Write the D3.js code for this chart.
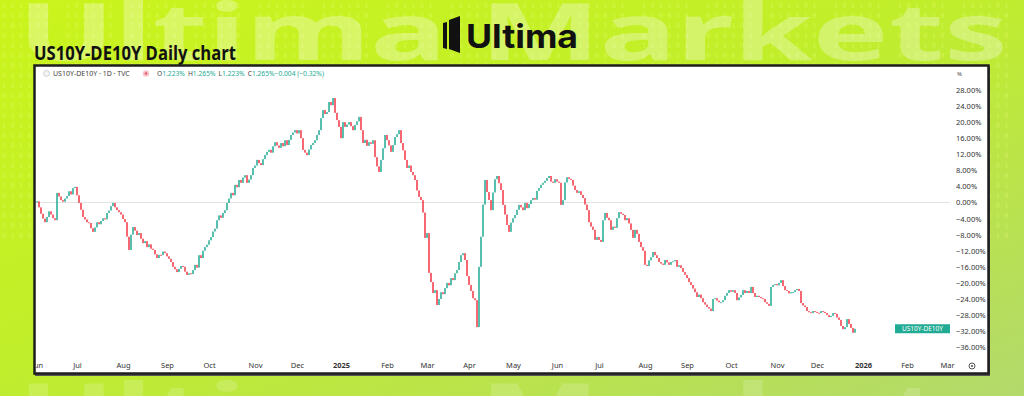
<!DOCTYPE html>
<html>
<head>
<meta charset="utf-8">
<script src="https://cdn.jsdelivr.net/npm/d3@7"></script>
<style>
  html, body { margin: 0; padding: 0; background: #c4ee2c; }
  svg { display: block; font-family: "Noto Sans", "Open Sans", sans-serif; }
</style>
</head>
<body>
<svg id="chart" width="1024" height="396"></svg>
<script>
// Daily closes of the US10Y-DE10Y spread, % change from first bar
const startDate = new Date(2024, 5, 3);
const closes = [
  0.3,-1.2,-2.8,-4.0,-4.9,-3.6,-2.2,-3.0,-3.9,-4.4,
  2.4,1.5,0.6,0.2,1.0,1.6,2.8,2.0,3.6,3.9,
  1.8,-0.1,-1.8,-3.6,-4.2,-4.9,-5.1,-6.4,-7.3,-6.2,
  -4.9,-5.4,-4.6,-3.9,-4.2,-2.6,-2.0,-0.9,-0.1,-1.2,
  -1.9,-2.4,-3.0,-4.1,-4.9,-8.5,-11.8,-8.0,-6.1,-7.0,
  -8.1,-7.6,-9.0,-10.1,-9.6,-11.1,-10.4,-11.5,-11.8,-12.9,
  -13.8,-13.0,-13.1,-12.2,-12.6,-13.4,-14.0,-14.8,-16.0,-16.6,
  -17.3,-16.5,-15.8,-16.0,-17.2,-18.0,-17.6,-17.8,-16.8,-15.5,
  -16.2,-13.1,-13.8,-12.0,-11.1,-10.5,-9.4,-8.6,-7.2,-6.5,
  -4.4,-3.2,-3.8,-2.6,-1.9,-0.1,1.0,2.4,1.8,4.4,
  3.8,5.6,4.9,6.2,6.8,4.9,5.7,6.8,8.6,9.2,
  10.6,9.8,9.3,10.8,11.8,12.6,13.1,12.4,14.0,15.0,
  14.2,13.6,14.8,14.0,15.5,14.3,15.6,16.8,17.4,18.0,
  17.2,18.0,16.0,13.1,12.4,11.8,13.2,14.3,14.8,15.5,
  16.8,18.0,21.0,23.0,22.0,22.5,25.0,24.2,26.0,22.3,
  20.5,18.8,16.0,20.0,18.8,19.4,20.0,19.0,18.0,19.3,
  20.2,21.3,18.0,14.8,15.6,14.1,15.0,14.6,15.5,11.3,
  9.0,7.6,10.6,13.5,16.8,15.5,14.2,12.6,14.3,16.3,
  17.0,18.0,14.8,13.0,10.6,8.6,9.2,7.6,6.8,5.6,
  3.0,1.4,0.6,-2.5,-8.8,-7.6,-17.5,-19.8,-22.5,-21.8,
  -25.5,-24.0,-22.3,-22.8,-21.3,-20.0,-20.6,-18.8,-19.3,-17.6,
  -16.8,-14.8,-13.1,-12.6,-14.3,-18.3,-20.5,-22.0,-23.8,-24.3,
  -31.0,-16.0,-8.5,-0.5,5.6,2.6,0.6,-1.9,2.5,5.8,
  6.6,4.8,3.1,-0.6,-3.0,-5.6,-7.3,-5.0,-3.9,-3.1,
  -1.8,-0.6,-1.2,-1.9,-0.1,-1.4,-0.4,0.6,1.1,0.7,
  2.9,3.6,4.4,4.9,5.4,6.1,6.6,5.2,4.9,5.8,
  5.2,4.9,-0.6,0.6,5.0,6.3,5.9,5.6,4.2,3.1,
  2.4,2.8,1.9,1.1,-0.5,-1.9,-4.9,-6.0,-6.8,-9.3,
  -8.6,-9.3,-9.8,-4.4,-2.6,-3.8,-4.4,-6.8,-6.0,-6.3,
  -3.9,-2.4,-2.8,-3.1,-4.4,-3.9,-5.2,-6.8,-8.8,-6.8,
  -7.8,-9.8,-11.1,-12.0,-15.5,-15.8,-14.4,-13.6,-12.3,-13.1,
  -13.8,-14.8,-15.2,-15.5,-14.3,-14.9,-15.5,-14.8,-14.6,-14.3,
  -16.0,-15.6,-16.3,-17.3,-18.0,-18.8,-19.8,-20.5,-21.4,-22.3,
  -23.5,-22.9,-23.8,-24.8,-25.4,-26.0,-26.4,-27.0,-24.0,-23.8,
  -24.4,-24.8,-24.8,-24.3,-23.2,-22.5,-21.8,-22.2,-21.8,-22.5,
  -24.3,-23.6,-23.0,-21.8,-22.5,-22.0,-22.5,-21.0,-22.5,-23.5,
  -23.2,-23.5,-23.8,-24.0,-24.8,-25.2,-25.7,-21.0,-20.5,-20.3,
  -20.6,-20.0,-19.3,-20.8,-21.8,-22.0,-22.6,-22.3,-22.3,-21.8,
  -21.5,-22.0,-25.0,-25.6,-26.0,-27.0,-27.3,-27.5,-27.0,-27.2,
  -27.4,-27.5,-27.0,-27.2,-27.5,-28.0,-28.5,-28.2,-27.5,-27.7,
  -28.6,-29.2,-30.7,-31.5,-31.0,-29.0,-30.2,-31.2,-32.4,-31.4
];

const yTicks = [28, 24, 20, 16, 12, 8, 4, 0, -4, -8, -12, -16, -20, -24, -28, -32, -36];
const monthTicks = [
  [2024, 5, "Jun"], [2024, 6, "Jul"], [2024, 7, "Aug"], [2024, 8, "Sep"], [2024, 9, "Oct"],
  [2024, 10, "Nov"], [2024, 11, "Dec"], [2025, 0, "2025"], [2025, 1, "Feb"], [2025, 2, "Mar"],
  [2025, 3, "Apr"], [2025, 4, "May"], [2025, 5, "Jun"], [2025, 6, "Jul"], [2025, 7, "Aug"],
  [2025, 8, "Sep"], [2025, 9, "Oct"], [2025, 10, "Nov"], [2025, 11, "Dec"], [2026, 0, "2026"],
  [2026, 1, "Feb"], [2026, 2, "Mar"]
];
const symbol = "US10Y-DE10Y";
const legendValues = [["O", "1.223%"], ["H", "1.265%"], ["L", "1.223%"], ["C", "1.265%"], ["", "\u22120.004 (\u22120.32%)"]];

// weekday index of a date counted from startDate (bars are placed by index, like TradingView)
function barIndex(date) {
  let n = 0;
  const d = new Date(startDate);
  while (d < date) {
    const wd = d.getDay();
    if (wd !== 0 && wd !== 6) n++;
    d.setDate(d.getDate() + 1);
  }
  return n;
}
function firstWeekday(y, m) {
  const d = new Date(y, m, 1);
  while (d.getDay() === 0 || d.getDay() === 6) d.setDate(d.getDate() + 1);
  return d;
}

const svg = d3.select("#chart");
const defs = svg.append("defs");

// background
const bg = defs.append("linearGradient").attr("id", "bg")
  .attr("x1", 0).attr("y1", 0).attr("x2", 1).attr("y2", 1);
bg.append("stop").attr("offset", "0%").attr("stop-color", "#cbf41c");
bg.append("stop").attr("offset", "45%").attr("stop-color", "#c1ee2a");
bg.append("stop").attr("offset", "100%").attr("stop-color", "#b3d96c");
svg.append("rect").attr("width", 1024).attr("height", 396).attr("fill", "url(#bg)");

const pat = defs.append("pattern").attr("id", "bits")
  .attr("patternUnits", "userSpaceOnUse").attr("width", 64).attr("height", 20);
pat.append("text").attr("x", 2).attr("y", 8).text("1 0 1 1 0 1")
  .attr("font-size", 7).attr("font-family", "DejaVu Sans Mono").attr("fill", "#f0ff80");
pat.append("text").attr("x", 2).attr("y", 18).text("0 1 0 0 1 0")
  .attr("font-size", 7).attr("font-family", "DejaVu Sans Mono").attr("fill", "#f0ff80");
svg.append("rect").attr("width", 1024).attr("height", 240).attr("fill", "url(#bits)").attr("opacity", 0.35);

// watermarks
svg.append("text").attr("x", 18).attr("y", 60)
  .attr("textLength", 990).attr("lengthAdjust", "spacingAndGlyphs")
  .attr("font-size", 78).attr("font-weight", 700)
  .attr("fill", "#ffffff").attr("opacity", 0.3)
  .text("Ultima Markets");
svg.append("text").attr("x", 18).attr("y", 440)
  .attr("textLength", 990).attr("lengthAdjust", "spacingAndGlyphs")
  .attr("font-size", 78).attr("font-weight", 700)
  .attr("fill", "#ffffff").attr("opacity", 0.16)
  .text("Ultima Markets");

// logo
svg.append("polygon").attr("points", "443,23 447,22 447,49 443,48").attr("fill", "#111");
svg.append("polygon").attr("points", "449,20 460,16 460,53 449,49").attr("fill", "#111");
svg.append("text").attr("x", 466).attr("y", 48)
  .attr("textLength", 112).attr("lengthAdjust", "spacingAndGlyphs")
  .attr("font-family", "Inter, 'Noto Sans', sans-serif")
  .attr("font-size", 32).attr("font-weight", 700).attr("fill", "#111")
  .text("Ultima");

// title
svg.append("text").attr("x", 34).attr("y", 60)
  .attr("textLength", 202).attr("lengthAdjust", "spacingAndGlyphs")
  .attr("font-family", "'Open Sans', sans-serif")
  .attr("font-size", 19).attr("font-weight", 700).attr("fill", "#111")
  .text(symbol + " Daily chart");

// chart panel
const panel = {left: 36, top: 67, right: 987, bottom: 372};
svg.append("rect").attr("x", panel.left - 1).attr("y", panel.top - 1)
  .attr("width", panel.right - panel.left + 4).attr("height", panel.bottom - panel.top + 5)
  .attr("fill", "#555");
svg.append("rect").attr("x", panel.left - 1.5).attr("y", panel.top - 1.5)
  .attr("width", panel.right - panel.left + 3).attr("height", panel.bottom - panel.top + 3)
  .attr("fill", "#fff").attr("stroke", "#1e1e1e").attr("stroke-width", 2.5);

defs.append("clipPath").attr("id", "plotClip").append("rect")
  .attr("x", panel.left).attr("y", panel.top).attr("width", 950 - panel.left).attr("height", panel.bottom - panel.top);
defs.append("clipPath").attr("id", "timeClip").append("rect")
  .attr("x", panel.left).attr("y", 350).attr("width", 955 - panel.left).attr("height", 22);

// scales
const x = d3.scaleLinear().domain([-0.5, 456.5]).range([36, 950]);
const y = d3.scaleLinear().domain([-42.16, 33.96]).range([372, 66]);

const bars = closes.map((c, i) => ({i, o: i === 0 ? 0 : closes[i - 1], c}));

const plot = svg.append("g").attr("clip-path", "url(#plotClip)");

// zero line
plot.append("line")
  .attr("x1", panel.left).attr("x2", 950)
  .attr("y1", y(0)).attr("y2", y(0))
  .attr("stroke", "#e3e3e3").attr("stroke-width", 1);

// candles
plot.selectAll("rect.candle")
  .data(bars)
  .join("rect")
  .attr("class", "candle")
  .attr("x", d => x(d.i) - 0.75)
  .attr("width", 1.5)
  .attr("y", d => y(Math.max(d.o, d.c)))
  .attr("height", d => Math.max(1, Math.abs(y(d.o) - y(d.c))))
  .attr("fill", d => d.c >= d.o ? "#22ab94" : "#f23645");

// price axis
const yAxis = svg.append("g")
  .attr("transform", "translate(956,0)")
  .call(d3.axisRight(y).tickValues(yTicks).tickSize(0).tickPadding(0)
    .tickFormat(d => (d < 0 ? "\u2212" : "") + Math.abs(d).toFixed(2) + "%"));
yAxis.select(".domain").remove();
yAxis.selectAll("text").attr("font-size", 7.5).attr("fill", "#333")
  .attr("font-family", "'Noto Sans', sans-serif");

svg.append("text").attr("x", 957).attr("y", 76).attr("font-size", 6).attr("fill", "#444").text("%");

// time axis
const xAxis = svg.append("g").attr("clip-path", "url(#timeClip)")
  .append("g")
  .attr("transform", "translate(0,363)")
  .call(d3.axisBottom(x)
    .tickValues(monthTicks.map(m => barIndex(firstWeekday(m[0], m[1]))))
    .tickSize(0).tickPadding(0)
    .tickFormat((d, k) => monthTicks[k][2]));
xAxis.select(".domain").remove();
xAxis.selectAll("text").attr("font-size", 7.5).attr("fill", "#333")
  .attr("font-family", "'Noto Sans', sans-serif")
  .attr("font-weight", (d, k) => /^\d+$/.test(monthTicks[k][2]) ? 700 : 400);

// gear icon
svg.append("circle").attr("cx", 972).attr("cy", 366).attr("r", 3)
  .attr("fill", "none").attr("stroke", "#555").attr("stroke-width", 1);
svg.append("circle").attr("cx", 972).attr("cy", 366).attr("r", 1.1).attr("fill", "#555");

// last value tag
const last = bars[bars.length - 1];
svg.append("rect").attr("x", 895).attr("y", y(last.c) - 4.5)
  .attr("width", 55).attr("height", 9).attr("fill", "#22ab94");
svg.append("text").attr("x", 922.5).attr("y", y(last.c) + 2.3)
  .attr("text-anchor", "middle").attr("font-size", 6.5).attr("fill", "#fff")
  .text(symbol);

// legend
svg.append("circle").attr("cx", 46.5).attr("cy", 73.5).attr("r", 3)
  .attr("fill", "#f4f4f4").attr("stroke", "#c8c8c8").attr("stroke-width", 0.8);
svg.append("text").attr("x", 53).attr("y", 76).attr("font-size", 7).attr("fill", "#444")
  .text(symbol + " \u00b7 1D \u00b7 TVC");
svg.append("circle").attr("cx", 146).attr("cy", 73.5).attr("r", 3.2).attr("fill", "#f9c4cb");
svg.append("circle").attr("cx", 146).attr("cy", 73.5).attr("r", 1.2).attr("fill", "#e5566a");
const leg = svg.append("text").attr("x", 157).attr("y", 76).attr("font-size", 6.7);
legendValues.forEach(([k, v], n) => {
  leg.append("tspan").attr("fill", "#444").attr("dx", n === 0 ? 0 : 3).text(k);
  leg.append("tspan").attr("fill", "#22ab94").text(v);
});
</script>
</body>
</html>
